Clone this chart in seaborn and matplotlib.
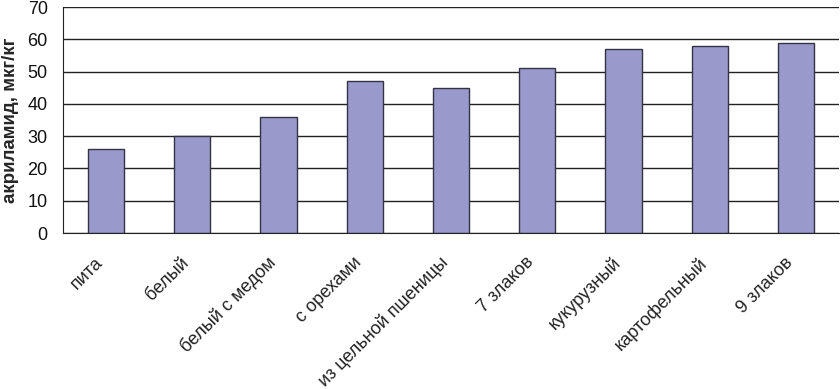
import matplotlib
matplotlib.use("Agg")
import matplotlib.pyplot as plt
import matplotlib.transforms as mtransforms
import seaborn as sns
import pandas as pd
import numpy as np

categories = ["пита", "белый", "белый с медом", "с орехами", "из цельной пшеницы",
              "7 злаков", "кукурузный", "картофельный", "9 злаков"]
values = [26, 30, 36, 47, 45, 51, 57, 58, 59]
yticks = [0, 10, 20, 30, 40, 50, 60, 70]
ylabel = "акриламид, мкг/кг"

sns.set_style("white")
plt.rcParams['font.family'] = ['Liberation Sans', 'DejaVu Sans']

df = pd.DataFrame({"cat": categories, "val": values})
fig = plt.figure(figsize=(8.4, 3.89), dpi=100)
ax = fig.add_axes([0.075, 0.401, 0.924, 0.581])
ax.set_axisbelow(True)
for t in yticks:
    ax.axhline(t, color="#222222", lw=1.0, zorder=0)
sns.barplot(data=df, x="cat", y="val", color="#9999cc", width=0.42,
            edgecolor="#333344", linewidth=1.0, saturation=1, ax=ax, zorder=2)
ax.set_xlim(-0.5, len(categories) - 0.5)
ax.set_ylim(0, 70)
ax.set_yticks(yticks)
ax.set_yticklabels([str(t) for t in yticks], fontsize=13, color="#111111")
ax.set_xticks(range(len(categories)))
ax.tick_params(axis="x", which="major", length=0, pad=15)
ax.set_xticks(np.arange(-0.5, len(categories), 1.0), minor=True)
ax.tick_params(axis="x", which="minor", length=6, direction="out", color="#222222", width=1)
ax.tick_params(axis="y", length=6, direction="out", color="#222222", width=1, pad=5)
ax.set_xticklabels(categories, rotation=45, ha="right", va="top", rotation_mode="anchor",
                   fontsize=13, color="#222222")
off = mtransforms.ScaledTranslation(-12 / 100, 0, fig.dpi_scale_trans)
for lbl in ax.get_xticklabels():
    lbl.set_transform(lbl.get_transform() + off)
for s in ["top", "right"]:
    ax.spines[s].set_visible(False)
ax.spines["left"].set_color("#222222")
ax.spines["bottom"].set_color("#222222")
ax.set_xlabel("")
ax.set_ylabel(ylabel, fontsize=13.5, fontweight="bold", labelpad=6)
fig.savefig("out.png", dpi=100)
